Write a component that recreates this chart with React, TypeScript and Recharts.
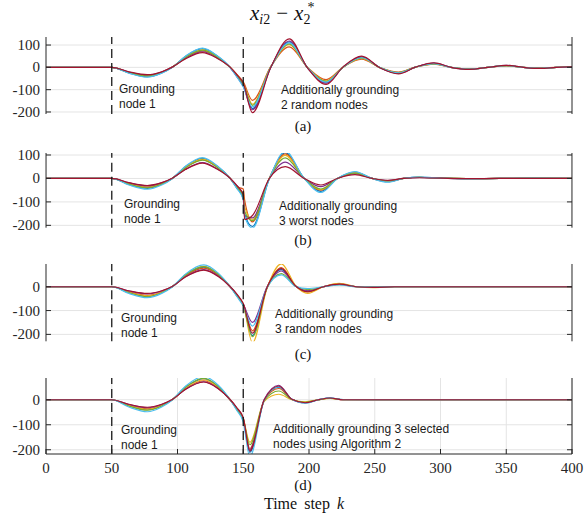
import React from "react";
import {
  LineChart,
  Line,
  XAxis,
  YAxis,
  CartesianGrid,
  ReferenceLine,
} from "recharts";

// MATLAB default colour order
const COLORS = ["#0072BD", "#D95319", "#EDB120", "#7E2F8E", "#77AC30", "#4DBEEE", "#A2142F"];

const X_TICKS = [0, 50, 100, 150, 200, 250, 300, 350, 400];
const Y_TICKS_AB = [-200, -100, 0, 100];
const Y_TICKS_CD = [-200, -100, 0];

// (a) additionally grounding 2 random nodes
const K_A = [0, 50, 63, 77, 88, 96, 106, 119, 130, 140, 145, 150, 157, 171, 185, 199, 213, 226, 240, 254, 268, 281, 295, 308, 322, 336, 350, 363, 376, 388, 400];
const SERIES_A = [
  [0, 0, -25, -42, -25, 0, 49, 84, 52, 0, -38, -80, -185, 2, 114, -3, -69, 1, 46, -2, -27, 1, 18, 0, -8, 0, 8, 0, -4, 0, 1],
  [0, 0, -22, -37, -22, 1, 43, 74, 46, 1, -30, -65, -148, 4, 92, -1, -55, 2, 37, -1, -21, 1, 14, 0, -7, 0, 7, 0, -3, 0, 1],
  [0, 0, -23, -38, -23, 0, 45, 78, 48, 0, -33, -72, -165, 3, 102, -2, -61, 1, 40, -1, -24, 1, 16, 0, -8, 0, 7, 0, -4, 0, 1],
  [0, 0, -21, -35, -21, 1, 41, 70, 43, -1, -40, -85, -190, 1, 118, -3, -71, 1, 47, -2, -27, 1, 19, 0, -9, 0, 9, 0, -4, 0, 1],
  [0, 0, -23, -39, -23, 0, 45, 77, 48, 0, -35, -75, -170, 2, 105, -2, -63, 1, 42, -1, -24, 1, 16, 0, -8, 0, 8, 0, -4, 0, 1],
  [0, 0, -26, -44, -26, -1, 50, 86, 53, 0, -42, -88, -177, 1, 110, -2, -66, 1, 43, -1, -25, 1, 17, 0, -8, 0, 8, 0, -4, 0, 1],
  [0, 0, -20, -33, -20, 1, 38, 66, 41, 1, -32, -70, -203, 0, 128, -4, -76, 2, 50, -2, -29, 1, 20, 0, -9, 0, 9, 0, -5, 0, 2],
];

// (b) additionally grounding 3 worst nodes
const K_B = [0, 50, 63, 77, 88, 96, 106, 119, 130, 140, 145, 150, 151, 157, 170, 182, 196, 209, 222, 235, 248, 260, 272, 284, 300, 320, 345, 370, 400];
const SERIES_B = [
  [0, 0, -25, -42, -25, 0, 50, 86, 53, 0, -40, -85, -150, -205, 2, 110, 3, -55, 1, 27, 0, -14, 0, 6, 1, -1, 0, 1, 0],
  [0, 0, -23, -38, -23, 0, 46, 80, 50, 0, -35, -45, -90, -185, 3, 105, 2, -50, 1, 25, 0, -13, 0, 5, 1, -1, 0, 1, 0],
  [0, 0, -22, -36, -22, 0, 48, 82, 51, 0, -34, -70, -120, -175, 3, 98, 2, -48, 1, 24, 0, -12, 0, 5, 1, -1, 0, 1, 0],
  [0, 0, -19, -32, -19, 1, 39, 68, 42, 0, -30, -75, -160, -168, 1, 70, 2, -35, 1, 20, 0, -9, 0, 4, 1, -1, 0, 0, 0],
  [0, 0, -24, -40, -24, 0, 45, 78, 48, 0, -36, -78, -140, -180, 2, 88, 2, -45, 1, 23, 0, -11, 0, 5, 1, -1, 0, 1, 0],
  [0, 0, -28, -46, -28, -1, 52, 89, 55, 0, -42, -90, -160, -212, 1, 116, 3, -60, 1, 29, 0, -16, 0, 6, 1, -2, 0, 1, 0],
  [0, 0, -18, -30, -18, 1, 38, 65, 40, 1, -30, -68, -175, -158, 1, 50, 1, -28, 1, 16, 0, -8, 0, 3, 1, -1, 0, 0, 0],
];

// (c) additionally grounding 3 random nodes
const K_C = [0, 50, 63, 77, 88, 96, 106, 120, 131, 140, 145, 150, 157, 168, 179, 190, 199, 211, 223, 236, 249, 265, 290, 330, 400];
const SERIES_C = [
  [0, 0, -24, -40, -24, 0, 48, 82, 51, 0, -36, -78, -205, -5, 72, 2, -20, 0, 11, 0, -3, 0, 0, 0, 0],
  [0, 0, -22, -36, -22, 0, 45, 78, 48, 0, -33, -72, -185, -3, 80, 2, -22, 0, 12, 0, -3, 0, 0, 0, 0],
  [0, 0, -23, -38, -23, 0, 50, 86, 53, 0, -35, -75, -235, -8, 96, 3, -28, 0, 14, 0, -4, 0, 0, 0, 0],
  [0, 0, -18, -30, -18, 1, 42, 72, 45, 0, -32, -74, -150, -2, 66, 2, -16, 0, 10, 0, -2, 0, 0, 0, 0],
  [0, 0, -25, -42, -25, 0, 49, 84, 52, 0, -37, -79, -210, -6, 55, 1, -12, 0, 9, 0, -2, 0, 0, 0, 0],
  [0, 0, -28, -46, -28, -1, 53, 92, 57, 0, -40, -80, -165, -4, 50, 1, -8, 0, 8, 0, -2, 0, 0, 0, 0],
  [0, 0, -17, -28, -17, 1, 41, 70, 43, 1, -30, -70, -195, -4, 76, 2, -21, 0, 11, 0, -3, 0, 0, 0, 0],
];

// (d) additionally grounding 3 selected nodes (Algorithm 2)
const K_D = [0, 50, 63, 77, 88, 96, 106, 120, 131, 140, 145, 150, 155, 166, 177, 187, 197, 207, 216, 226, 250, 300, 400];
const SERIES_D = [
  [0, 0, -24, -40, -24, 0, 49, 84, 52, 0, -38, -82, -210, -2, 50, 2, -12, -1, 7, 1, 0, 0, 0],
  [0, 0, -22, -36, -22, 0, 44, 76, 47, 0, -34, -74, -195, -3, 45, 1, -11, 0, 6, 0, 0, 0, 0],
  [0, 0, -23, -38, -23, 0, 46, 80, 50, 0, -35, -76, -170, -6, 22, 0, -8, 0, 5, 0, 0, 0, 0],
  [0, 0, -19, -32, -19, 1, 42, 72, 45, 0, -32, -78, -200, 2, 58, 2, -13, 0, 7, 0, 0, 0, 0],
  [0, 0, -25, -42, -25, 0, 50, 86, 53, 0, -38, -80, -180, -4, 35, 1, -10, 0, 6, 0, 0, 0, 0],
  [0, 0, -29, -48, -29, -1, 54, 93, 58, 0, -42, -88, -228, -2, 52, 2, -14, 0, 8, 0, 0, 0, 0],
  [0, 0, -18, -30, -18, 1, 41, 71, 44, 1, -31, -72, -205, 0, 55, 2, -12, 0, 7, 0, 0, 0, 0],
];

const AXIS = "#262626";
const SERIF = "'Liberation Serif', 'DejaVu Serif', serif";
const SANS = "'Liberation Sans', Arial, sans-serif";

const buildRows = (ks: number[], series: number[][]) =>
  ks.map((k, i) => {
    const row: Record<string, number> = { k };
    series.forEach((s, j) => {
      row[`s${j}`] = s[i];
    });
    return row;
  });

const LeftTick = (props: any) => {
  const { x, y, payload } = props;
  return (
    <g>
      <line x1={x} x2={x + 5} y1={y} y2={y} stroke={AXIS} />
      <text x={x - 6} y={y} dy="0.33em" textAnchor="end" fontFamily={SERIF} fontSize={15} fill={AXIS}>
        {payload.value}
      </text>
    </g>
  );
};

const RightTick = (props: any) => {
  const { x, y } = props;
  return <line x1={x - 5} x2={x} y1={y} y2={y} stroke={AXIS} />;
};

const BottomTick = (props: any) => {
  const { x, y, payload } = props;
  return (
    <g>
      <line x1={x} x2={x} y1={y - 5} y2={y} stroke={AXIS} />
      <text x={x} y={y + 19} textAnchor="middle" fontFamily={SERIF} fontSize={15} fill={AXIS}>
        {payload.value}
      </text>
    </g>
  );
};

const TopTick = (props: any) => {
  const { x, y } = props;
  return <line x1={x} x2={x} y1={y} y2={y + 5} stroke={AXIS} />;
};

interface PanelProps {
  plotTop: number;
  plotHeight: number;
  domain: [number, number];
  yTicks: number[];
  ks: number[];
  series: number[][];
  showX?: boolean;
}

const Panel: React.FC<PanelProps> = ({ plotTop, plotHeight, domain, yTicks, ks, series, showX }) => {
  const data = buildRows(ks, series);
  const xH = showX ? 30 : 0;
  return (
    <div style={{ position: "absolute", left: 0, top: plotTop - 8 }}>
      <LineChart
        width={587}
        height={plotHeight + 8 + (showX ? xH : 8)}
        data={data}
        margin={{ top: 8, right: 0, bottom: showX ? 0 : 8, left: 0 }}
      >
        <CartesianGrid stroke="#e4e4e4" syncWithTicks />
        <XAxis
          dataKey="k"
          type="number"
          domain={[0, 400]}
          ticks={X_TICKS}
          interval={0}
          height={xH}
          tickSize={0}
          tickMargin={0}
          tickLine={false}
          axisLine={showX ? { stroke: AXIS } : false}
          tick={showX ? (p: any) => <BottomTick {...p} /> : false}
        />
        {showX && (
          <XAxis
            xAxisId="top"
            orientation="top"
            dataKey="k"
            type="number"
            domain={[0, 400]}
            ticks={X_TICKS}
            interval={0}
            height={0}
            tickSize={0}
            tickMargin={0}
            tickLine={false}
            axisLine={{ stroke: AXIS }}
            tick={(p: any) => <TopTick {...p} />}
          />
        )}
        <YAxis
          type="number"
          domain={domain}
          ticks={yTicks}
          interval={0}
          allowDataOverflow
          width={46}
          tickSize={0}
          tickMargin={0}
          tickLine={false}
          axisLine={{ stroke: AXIS }}
          tick={(p: any) => <LeftTick {...p} />}
        />
        <YAxis
          yAxisId="r"
          orientation="right"
          type="number"
          domain={domain}
          ticks={yTicks}
          interval={0}
          allowDataOverflow
          width={15}
          tickSize={0}
          tickMargin={0}
          tickLine={false}
          axisLine={{ stroke: AXIS }}
          tick={(p: any) => <RightTick {...p} />}
        />
        {series.map((_, j) => (
          <Line
            key={`s${j}`}
            dataKey={`s${j}`}
            type="monotone"
            dot={false}
            stroke={COLORS[j % COLORS.length]}
            strokeWidth={1.2}
            isAnimationActive={false}
          />
        ))}
        <ReferenceLine x={50} stroke="#1a1a1a" strokeWidth={1.3} strokeDasharray="9 5" />
        <ReferenceLine x={150} stroke="#1a1a1a" strokeWidth={1.3} strokeDasharray="9 5" />
      </LineChart>
    </div>
  );
};

const Note = ({ x, y, lines }: { x: number; y: number; lines: string[] }) => (
  <text x={x} y={y} fontFamily={SANS} fontSize={12} fill="#1a1a1a">
    {lines.map((t, i) => (
      <tspan key={i} x={x} dy={i === 0 ? 0 : 15}>
        {t}
      </tspan>
    ))}
  </text>
);

export default function App() {
  return (
    <div style={{ position: "absolute", left: 0, top: 0, width: 587, height: 516, background: "#fff" }}>
      <Panel plotTop={37} plotHeight={77} domain={[-209, 136]} yTicks={Y_TICKS_AB} ks={K_A} series={SERIES_A} />
      <Panel plotTop={152.6} plotHeight={74.7} domain={[-210, 108.5]} yTicks={Y_TICKS_AB} ks={K_B} series={SERIES_B} />
      <Panel plotTop={264} plotHeight={77.3} domain={[-229, 95.4]} yTicks={Y_TICKS_CD} ks={K_C} series={SERIES_C} />
      <Panel plotTop={378.3} plotHeight={76} domain={[-217, 87]} yTicks={Y_TICKS_CD} ks={K_D} series={SERIES_D} showX />
      <svg
        width={587}
        height={516}
        style={{ position: "absolute", left: 0, top: 0, pointerEvents: "none" }}
      >
        <text x={250} y={20} fontFamily={SERIF} fontSize={21} fill="#111">
          <tspan fontStyle="italic">x</tspan>
          <tspan fontStyle="italic" fontSize={14} dy={4}>i</tspan>
          <tspan fontSize={14}>2</tspan>
          <tspan dy={-4} dx={6}>−</tspan>
          <tspan dx={6} fontStyle="italic">x</tspan>
          <tspan fontSize={14} dy={4}>2</tspan>
          <tspan fontSize={14} dy={-12} dx={-3}>*</tspan>
        </text>

        <Note x={119} y={93} lines={["Grounding", "node 1"]} />
        <Note x={281} y={94} lines={["Additionally grounding", "2 random nodes"]} />
        <Note x={124} y={208} lines={["Grounding", "node 1"]} />
        <Note x={279} y={210} lines={["Additionally grounding", "3 worst nodes"]} />
        <Note x={121} y={322} lines={["Grounding", "node 1"]} />
        <Note x={275} y={318} lines={["Additionally grounding", "3 random nodes"]} />
        <Note x={121} y={434} lines={["Grounding", "node 1"]} />
        <Note x={273} y={433} lines={["Additionally grounding 3 selected", "nodes using Algorithm 2"]} />

        <text x={303} y={131} textAnchor="middle" fontFamily={SERIF} fontSize={15} fill="#111">(a)</text>
        <text x={303} y={245} textAnchor="middle" fontFamily={SERIF} fontSize={15} fill="#111">(b)</text>
        <text x={303} y={359} textAnchor="middle" fontFamily={SERIF} fontSize={15} fill="#111">(c)</text>
        <text x={303} y={490} textAnchor="middle" fontFamily={SERIF} fontSize={15} fill="#111">(d)</text>
        <text x={304} y={509} textAnchor="middle" fontFamily={SERIF} fontSize={16} fill="#111" wordSpacing={3}>
          Time step <tspan fontStyle="italic">k</tspan>
        </text>
      </svg>
    </div>
  );
}
